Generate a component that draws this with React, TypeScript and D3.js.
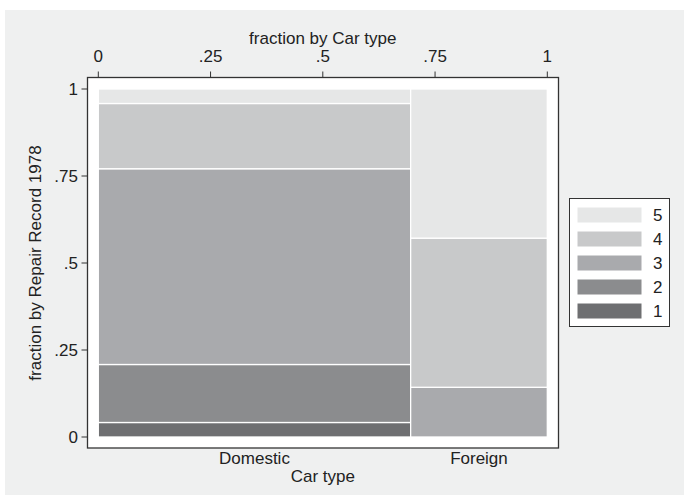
import React from "react";
import * as d3 from "d3";

const categories = ["Domestic", "Foreign"];
const levels = ["1", "2", "3", "4", "5"];
// counts of repair record per car type
const domesticCounts = [2, 8, 27, 9, 2];
const foreignCounts = [0, 0, 3, 9, 9];
const xTicks = [0, 0.25, 0.5, 0.75, 1];
const yTicks = [0, 0.25, 0.5, 0.75, 1];
const tickFmt = (v: number) => (v === 0 ? "0" : v === 1 ? "1" : String(v).replace(/^0/, ""));
const colors = ["#6e6f71", "#8b8c8e", "#a9aaad", "#c8c9ca", "#e6e7e7"];

export default function App() {
  const W = 684, H = 504;
  const x = d3.scaleLinear().domain([0, 1]).range([98.3, 547.3]);
  const y = d3.scaleLinear().domain([0, 1]).range([437, 89]);
  const counts = [domesticCounts, foreignCounts];
  const totals = counts.map((c) => d3.sum(c));
  const grand = d3.sum(totals);
  const rects: any[] = [];
  let cx = 0;
  const catCenters: number[] = [];
  counts.forEach((c, ci) => {
    const w = totals[ci] / grand;
    catCenters.push(cx + w / 2);
    let cy = 0;
    c.forEach((v, li) => {
      const h = v / totals[ci];
      if (v > 0) rects.push({ x0: cx, x1: cx + w, y0: cy, y1: cy + h, li });
      cy += h;
    });
    cx += w;
  });
  const font = "'Liberation Sans', Arial, sans-serif";
  const fs = 17;
  const tc = "#222";
  return (
    <svg width={W} height={H} style={{ position: "absolute", left: 0, top: 0 }} fontFamily={font}>
      <rect x={0} y={0} width={W} height={H} fill="#ffffff" />
      <rect x={5} y={10} width={679} height={485} fill="#eff0f0" />
      <rect x={87.5} y={77.5} width={471} height={370.5} fill="#ffffff" stroke="#333" strokeWidth={1.3} />
      {rects.map((r, i) => (
        <rect key={i} x={x(r.x0)} y={y(r.y1)} width={x(r.x1) - x(r.x0)} height={y(r.y0) - y(r.y1)}
          fill={colors[r.li]} stroke="#ffffff" strokeWidth={1.3} />
      ))}
      {/* top axis */}
      {xTicks.map((t) => (
        <g key={t}>
          <line x1={x(t)} x2={x(t)} y1={71.5} y2={77.5} stroke="#333" />
          <text x={x(t)} y={62} textAnchor="middle" fontSize={fs} fill={tc}>{tickFmt(t)}</text>
        </g>
      ))}
      <text x={(x(0) + x(1)) / 2} y={44} textAnchor="middle" fontSize={fs} fill={tc}>fraction by Car type</text>
      {/* left axis */}
      {yTicks.map((t) => (
        <g key={t}>
          <line x1={81.5} x2={87.5} y1={y(t)} y2={y(t)} stroke="#333" />
          <text x={78} y={y(t) + 6} textAnchor="end" fontSize={fs} fill={tc}>{tickFmt(t)}</text>
        </g>
      ))}
      <text transform={`translate(41,${(y(0) + y(1)) / 2}) rotate(-90)`} textAnchor="middle" fontSize={fs} fill={tc}>fraction by Repair Record 1978</text>
      {/* bottom labels */}
      {categories.map((c, i) => (
        <text key={c} x={x(catCenters[i])} y={464} textAnchor="middle" fontSize={fs} fill={tc}>{c}</text>
      ))}
      <text x={(x(0) + x(1)) / 2} y={482} textAnchor="middle" fontSize={fs} fill={tc}>Car type</text>
      {/* legend */}
      <rect x={569.5} y={198.5} width={100} height={128} fill="#ffffff" stroke="#333" />
      {levels.slice().reverse().map((l, i) => {
        const li = levels.length - 1 - i;
        const cy = 215 + i * 24;
        return (
          <g key={l}>
            <rect x={577} y={cy - 8} width={65} height={16} fill={colors[li]} stroke="#ffffff" />
            <text x={653} y={cy + 6} fontSize={fs} fill={tc}>{l}</text>
          </g>
        );
      })}
    </svg>
  );
}
